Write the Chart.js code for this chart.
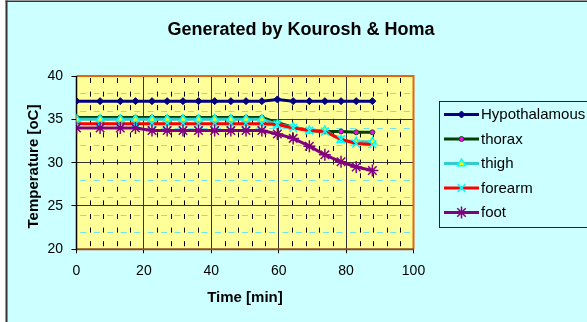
<!DOCTYPE html>
<html>
<head>
<meta charset="utf-8">
<title>Generated by Kourosh &amp; Homa</title>
<script src="https://cdn.jsdelivr.net/npm/chart.js@4/dist/chart.umd.min.js"></script>
<style>
  html, body { margin: 0; padding: 0; background: #ffffff; }
  #wrap { width: 587px; height: 322px; position: relative; }
  canvas { display: block; }
</style>
</head>
<body>
<div id="wrap"><canvas id="chart" width="587" height="322"></canvas></div>
<script>
// Sampling times (minutes)
const timeMin = [0, 7, 13, 17.5, 22.4, 26.9, 31.6, 36.2, 41, 45.8, 50.3, 55, 59.6, 64.3, 69.1, 73.7, 78.5, 83, 87.8];

// Temperatures (°C) per body site
const hypothalamous = [37.1, 37.1, 37.1, 37.1, 37.1, 37.1, 37.1, 37.1, 37.1, 37.1, 37.1, 37.1, 37.3, 37.1, 37.1, 37.1, 37.1, 37.1, 37.1];
const thorax        = [35.2, 35.2, 35.2, 35.2, 35.2, 35.2, 35.2, 35.2, 35.2, 35.2, 35.2, 35.2, 34.6, 34.1, 33.7, 33.6, 33.6, 33.5, 33.5];
const thigh         = [35.0, 35.0, 35.0, 35.0, 35.0, 35.0, 35.0, 35.0, 35.0, 35.0, 35.0, 35.0, 34.4, 34.1, 33.7, 33.7, 32.6, 32.4, 32.4];
const forearm       = [34.5, 34.5, 34.5, 34.5, 34.5, 34.5, 34.5, 34.5, 34.5, 34.5, 34.5, 34.5, 34.4, 34.0, 33.7, 33.6, 32.7, 32.2, 32.1];
const foot          = [34.0, 34.0, 34.0, 34.0, 33.7, 33.7, 33.7, 33.7, 33.7, 33.7, 33.7, 33.7, 33.3, 32.8, 31.9, 30.9, 30.1, 29.5, 29.1];

const seriesNames = ['Hypothalamous', 'thorax', 'thigh', 'forearm', 'foot'];

// Axis ranges and tick steps
const xRange = [0, 100], xMajorStep = 20, xMinorStep = 4;
const yRange = [20, 40], yMajorStep = 5, yMinorStep = 2;

const chartTitle = 'Generated by Kourosh & Homa';
const xTitle = 'Time [min]';
const yTitle = 'Temperature [oC]';

const FONT = "'Liberation Sans', Arial, Helvetica, sans-serif";
Chart.defaults.font.family = FONT;
Chart.defaults.color = '#000';

const toPoints = vals => timeMin.map((t, i) => ({ x: t, y: vals[i] }));

const datasets = [
  { label: seriesNames[0], data: toPoints(hypothalamous), order: 5,
    borderColor: '#000080', borderWidth: 3,
    pointStyle: 'rectRot', pointRadius: 3.5, pointBackgroundColor: '#000080', pointBorderColor: '#000080', pointBorderWidth: 1 },
  { label: seriesNames[1], data: toPoints(thorax), order: 4,
    borderColor: '#004000', borderWidth: 3,
    pointStyle: 'circle', pointRadius: 2.5, pointBackgroundColor: '#FF00FF', pointBorderColor: '#006000', pointBorderWidth: 1 },
  { label: seriesNames[2], data: toPoints(thigh), order: 3,
    borderColor: '#33CCCC', borderWidth: 3,
    pointStyle: 'triangle', pointRadius: 4.5, pointBackgroundColor: '#FFFF00', pointBorderColor: '#00FFFF', pointBorderWidth: 1.5 },
  { label: seriesNames[3], data: toPoints(forearm), order: 2,
    borderColor: '#FF0000', borderWidth: 3,
    pointStyle: 'crossRot', pointRadius: 5.5, pointBackgroundColor: '#00FFFF', pointBorderColor: '#00FFFF', pointBorderWidth: 1.5 },
  { label: seriesNames[4], data: toPoints(foot), order: 1,
    borderColor: '#800080', borderWidth: 3,
    pointStyle: 'star', pointRadius: 6, pointBackgroundColor: '#800080', pointBorderColor: '#800080', pointBorderWidth: 1.5 }
];

// Background, frame, plot fill and minor gridlines (under the major grid)
const backdrop = {
  id: 'backdrop',
  beforeDraw(chart) {
    const { ctx, width, height, chartArea: a } = chart;
    const xs = chart.scales.x, ys = chart.scales.y;
    ctx.save();
    ctx.fillStyle = '#ffffff';
    ctx.fillRect(0, 0, width, height);
    ctx.fillStyle = '#CCFFFF';
    ctx.fillRect(7, 2, width - 7, height - 2);
    ctx.fillStyle = '#333333';
    ctx.fillRect(5.5, 0.5, 2, height);
    ctx.fillRect(5.5, 0.5, width, 1.5);

    ctx.fillStyle = '#FFFF99';
    ctx.fillRect(a.left, a.top, a.right - a.left, a.bottom - a.top);

    ctx.beginPath();
    ctx.rect(a.left, a.top, a.right - a.left, a.bottom - a.top);
    ctx.clip();

    // minor horizontal lines (cyan dashes)
    const cell = xs.getPixelForValue(xMinorStep) - xs.getPixelForValue(0);
    const dashOn = 6;
    ctx.strokeStyle = '#6EE6E6';
    ctx.lineWidth = 1;
    ctx.setLineDash([dashOn, cell - dashOn]);
    ctx.lineDashOffset = dashOn + (cell - dashOn) / 2;
    for (let v = yRange[0] + yMinorStep; v < yRange[1]; v += yMinorStep) {
      if (v % yMajorStep === 0) continue;
      const y = Math.round(ys.getPixelForValue(v)) + 0.5;
      ctx.beginPath();
      ctx.moveTo(a.left, y);
      ctx.lineTo(a.right, y);
      ctx.stroke();
    }

    // minor vertical lines (black dashes)
    ctx.strokeStyle = '#000000';
    ctx.setLineDash([5, 8.6]);
    ctx.lineDashOffset = -2;
    for (let v = xRange[0] + xMinorStep; v < xRange[1]; v += xMinorStep) {
      if (v % xMajorStep === 0) continue;
      const x = Math.round(xs.getPixelForValue(v)) + 0.5;
      ctx.beginPath();
      ctx.moveTo(x, a.top);
      ctx.lineTo(x, a.bottom);
      ctx.stroke();
    }
    ctx.restore();
  },
  beforeDatasetsDraw(chart) {
    const { ctx, chartArea: a } = chart;
    ctx.save();
    // plot area border
    ctx.strokeStyle = '#E8650C';
    ctx.lineWidth = 2;
    ctx.beginPath();
    ctx.moveTo(a.left, a.top);
    ctx.lineTo(a.right, a.top);
    ctx.lineTo(a.right, a.bottom);
    ctx.stroke();
    // axes
    ctx.strokeStyle = '#8E4E18';
    ctx.beginPath();
    ctx.moveTo(a.left, a.bottom);
    ctx.lineTo(a.right, a.bottom);
    ctx.stroke();
    ctx.strokeStyle = '#000000';
    ctx.lineWidth = 1.5;
    ctx.beginPath();
    ctx.moveTo(a.left, a.top);
    ctx.lineTo(a.left, a.bottom + 1);
    ctx.stroke();
    ctx.restore();
  },
  afterDraw(chart) {
    const { ctx } = chart;
    ctx.save();
    // chart title
    ctx.fillStyle = '#000';
    ctx.font = `bold 18px ${FONT}`;
    ctx.textAlign = 'center';
    ctx.textBaseline = 'alphabetic';
    ctx.fillText(chartTitle, 301, 35);

    // vertical axis title
    ctx.save();
    ctx.translate(33.5, 166.5);
    ctx.rotate(-Math.PI / 2);
    ctx.font = `bold 15px ${FONT}`;
    ctx.textAlign = 'center';
    ctx.textBaseline = 'middle';
    ctx.fillText(yTitle, 0, 0);
    ctx.restore();

    // legend
    ctx.strokeStyle = '#222';
    ctx.lineWidth = 1;
    ctx.strokeRect(439.5, 101.5, 170, 126);
    const rowTop = 114.5, rowGap = 24.5;
    chart.data.datasets.forEach((ds, i) => {
      const y = rowTop + i * rowGap;
      ctx.strokeStyle = ds.borderColor;
      ctx.lineWidth = ds.borderWidth;
      ctx.setLineDash([]);
      ctx.beginPath();
      ctx.moveTo(444, y);
      ctx.lineTo(479, y);
      ctx.stroke();
      ctx.fillStyle = ds.pointBackgroundColor;
      ctx.strokeStyle = ds.pointBorderColor;
      ctx.lineWidth = ds.pointBorderWidth;
      Chart.helpers.drawPoint(ctx, {
        pointStyle: ds.pointStyle, radius: ds.pointRadius,
        borderWidth: ds.pointBorderWidth, rotation: 0
      }, 461.5, y);
      ctx.fillStyle = '#000';
      ctx.font = `15px ${FONT}`;
      ctx.textAlign = 'left';
      ctx.textBaseline = 'middle';
      ctx.fillText(ds.label, 481, y + 0.5);
    });
    ctx.restore();
  }
};

new Chart(document.getElementById('chart'), {
  type: 'line',
  data: { datasets },
  plugins: [backdrop],
  options: {
    responsive: false,
    animation: false,
    events: [],
    devicePixelRatio: 1,
    layout: { padding: { left: 8, right: 173.5, top: 76, bottom: 0 } },
    elements: { line: { tension: 0, fill: false } },
    plugins: {
      legend: { display: false },
      title: { display: false },
      tooltip: { enabled: false }
    },
    scales: {
      x: {
        type: 'linear', position: 'bottom',
        min: xRange[0], max: xRange[1],
        ticks: { stepSize: xMajorStep, padding: 9.5, color: '#000', font: { size: 14 } },
        grid: { color: '#333333', lineWidth: 1, tickLength: 4, tickColor: '#000', tickWidth: 1 },
        border: { display: false },
        title: { display: true, text: xTitle, color: '#000',
                 font: { size: 15, weight: 'bold' }, padding: { top: 0, bottom: 15.5 } },
        afterFit(s) { s.height = 72.7; }
      },
      y: {
        type: 'linear', position: 'left',
        min: yRange[0], max: yRange[1],
        ticks: { stepSize: yMajorStep, padding: 8.5, color: '#000', font: { size: 14 } },
        grid: { color: '#333333', lineWidth: 1, tickLength: 5, tickColor: '#000', tickWidth: 1 },
        border: { display: false },
        title: { display: false },
        afterFit(s) { s.width = 68.5; }
      }
    }
  }
});
</script>
</body>
</html>
